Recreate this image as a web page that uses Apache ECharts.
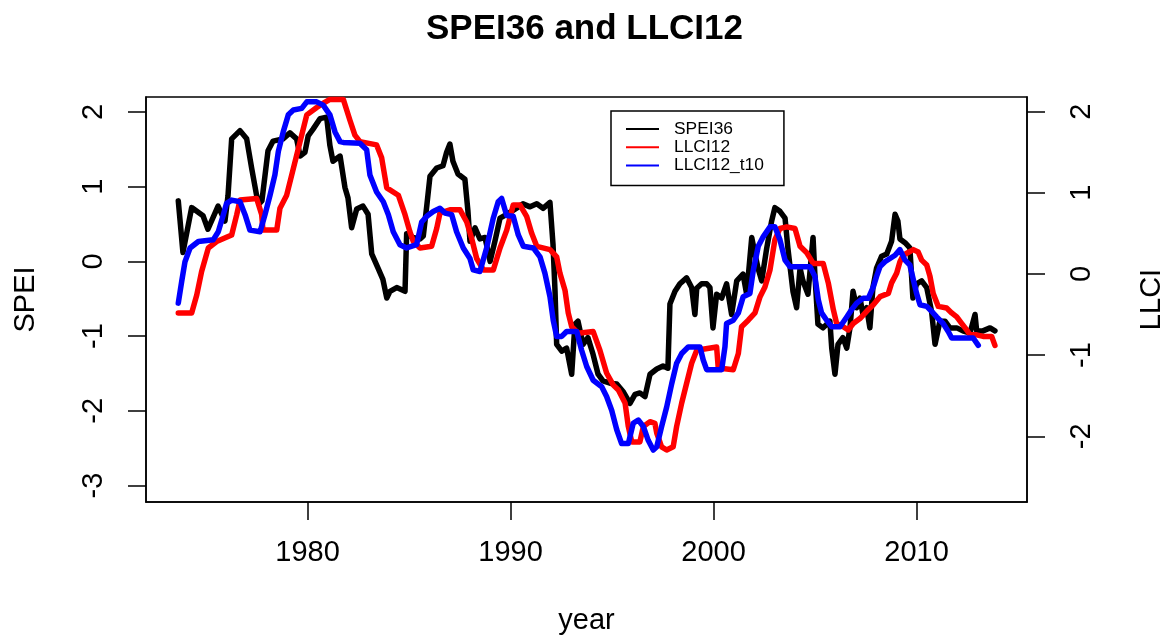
<!DOCTYPE html>
<html><head><meta charset="utf-8">
<script src="https://cdn.jsdelivr.net/npm/echarts@6/dist/echarts.min.js"></script>
<style>html,body{margin:0;padding:0;background:#fff}#c{width:1169px;height:642px}</style>
</head><body><div id="c"></div>
<script>
// SPEI36 (left axis)
const speiYears = [1973.63,1973.86,1974.29,1974.85,1975.09,1975.59,1975.93,1976.08,1976.26,1976.67,
1977.00,1977.25,1977.49,1977.61,1977.75,1978.05,1978.30,1978.79,1979.13,1979.46,
1979.63,1979.87,1980.03,1980.27,1980.61,1980.94,1981.10,1981.25,1981.60,1981.84,
1981.99,1982.17,1982.42,1982.73,1982.98,1983.16,1983.47,1983.71,1983.90,1984.06,
1984.39,1984.80,1984.88,1985.19,1985.54,1985.70,1985.87,1986.03,1986.36,1986.67,
1986.85,1987.01,1987.16,1987.41,1987.75,1987.90,1988.00,1988.25,1988.49,1988.74,
1988.99,1989.23,1989.48,1989.81,1990.22,1990.61,1990.96,1991.29,1991.60,1991.94,
1992.09,1992.19,1992.27,1992.52,1992.76,1993.01,1993.17,1993.32,1993.57,1993.81,
1994.06,1994.31,1994.55,1994.90,1995.23,1995.54,1995.88,1996.13,1996.37,1996.62,
1996.87,1997.20,1997.51,1997.75,1997.85,1998.10,1998.34,1998.67,1998.92,1999.08,
1999.17,1999.41,1999.66,1999.82,1999.97,2000.15,2000.40,2000.64,2000.89,2001.14,
2001.45,2001.63,2001.88,2002.04,2002.19,2002.37,2002.62,2002.86,2003.02,2003.27,
2003.52,2003.66,2003.91,2004.09,2004.26,2004.40,2004.65,2004.90,2004.99,2005.14,
2005.39,2005.73,2005.82,2005.98,2006.13,2006.37,2006.56,2006.72,2006.87,2007.05,
2007.21,2007.36,2007.54,2007.70,2007.85,2008.03,2008.28,2008.53,2008.77,2008.94,
2009.08,2009.18,2009.43,2009.67,2009.82,2010.00,2010.25,2010.50,2010.74,2010.91,
2011.15,2011.40,2011.64,2011.98,2012.28,2012.63,2012.88,2012.96,2013.27,2013.62,2013.86];
const speiValues = [0.81,0.12,0.72,0.61,0.43,0.74,0.54,0.88,1.64,1.75,
1.64,1.24,0.88,0.77,0.81,1.48,1.61,1.64,1.72,1.64,
1.41,1.46,1.68,1.77,1.91,1.93,1.55,1.34,1.41,0.99,
0.85,0.45,0.70,0.74,0.63,0.10,-0.09,-0.24,-0.49,-0.40,
-0.35,-0.40,0.37,0.32,0.30,0.34,0.74,1.14,1.25,1.28,
1.46,1.57,1.34,1.17,1.10,0.67,0.27,0.45,0.30,0.32,
0.00,0.27,0.58,0.63,0.70,0.77,0.73,0.77,0.71,0.79,
0.23,-0.40,-1.11,-1.20,-1.16,-1.51,-0.84,-0.80,-1.11,-1.02,
-1.24,-1.51,-1.60,-1.63,-1.64,-1.74,-1.90,-1.78,-1.76,-1.81,
-1.51,-1.44,-1.40,-1.43,-0.57,-0.40,-0.30,-0.22,-0.35,-0.71,
-0.36,-0.30,-0.30,-0.35,-0.89,-0.44,-0.49,-0.30,-0.71,-0.26,
-0.17,-0.44,0.32,0.10,-0.09,-0.26,0.18,0.54,0.72,0.67,
0.58,0.18,-0.40,-0.62,-0.09,-0.26,-0.44,0.32,-0.17,-0.84,
-0.89,-0.80,-1.16,-1.51,-1.11,-1.02,-1.16,-0.89,-0.40,-0.62,
-0.49,-0.71,-0.62,-0.89,-0.35,-0.09,0.07,0.10,0.27,0.63,
0.54,0.30,0.25,0.18,-0.49,-0.30,-0.26,-0.35,-0.67,-1.11,
-0.80,-0.80,-0.89,-0.89,-0.93,-0.96,-0.71,-0.93,-0.93,-0.89,-0.93];

// LLCI12 (right axis)
const llciYears = [1973.63,1974.29,1974.54,1974.78,1975.11,1975.52,1976.26,1976.51,1976.67,1977.49,
1977.74,1977.80,1978.48,1978.64,1978.97,1979.30,1979.63,1979.96,1980.45,1980.76,
1981.10,1981.76,1982.09,1982.33,1982.58,1983.40,1983.65,1983.90,1984.47,1984.80,
1985.04,1985.21,1985.54,1986.11,1986.36,1986.52,1987.01,1987.51,1987.84,1988.08,
1988.33,1988.66,1989.15,1989.48,1989.81,1990.13,1990.46,1990.79,1991.04,1991.29,
1991.94,1992.27,1992.43,1992.68,1992.84,1993.01,1993.33,1994.07,1994.40,1994.73,
1995.06,1995.31,1995.64,1995.80,1995.97,1996.37,1996.54,1996.87,1997.11,1997.20,
1997.44,1997.69,1998.01,1998.18,1998.43,1998.67,1998.92,1999.17,2000.15,2000.23,
2000.97,2001.22,2001.38,2001.71,2002.04,2002.29,2002.53,2002.78,2003.02,2003.27,
2003.60,2004.01,2004.26,2004.59,2004.91,2005.40,2005.65,2005.90,2006.06,2006.39,
2006.63,2006.88,2007.21,2007.54,2007.87,2008.20,2008.61,2008.77,2009.02,2009.18,
2009.34,2009.84,2010.08,2010.25,2010.50,2010.66,2010.82,2011.07,2011.48,2011.73,
2011.98,2012.22,2012.47,2012.63,2012.96,2013.28,2013.70,2013.86];
const llciValues = [-0.48,-0.48,-0.26,0.03,0.32,0.40,0.48,0.73,0.91,0.93,
0.73,0.54,0.54,0.81,0.97,1.30,1.63,1.96,2.05,2.10,
2.15,2.15,1.89,1.71,1.63,1.59,1.43,1.06,0.97,0.73,
0.52,0.40,0.32,0.34,0.56,0.75,0.79,0.79,0.64,0.44,
0.19,0.05,0.05,0.32,0.54,0.85,0.85,0.71,0.50,0.34,
0.30,0.21,0.01,-0.20,-0.48,-0.65,-0.73,-0.71,-0.94,-1.22,
-1.37,-1.43,-1.59,-1.88,-2.07,-2.07,-1.88,-1.82,-1.84,-1.96,
-2.13,-2.17,-2.13,-1.88,-1.59,-1.35,-1.10,-0.94,-0.90,-1.16,
-1.18,-0.98,-0.65,-0.57,-0.48,-0.28,-0.16,0.05,0.42,0.56,
0.58,0.56,0.34,0.26,0.13,0.13,-0.11,-0.44,-0.61,-0.65,
-0.69,-0.61,-0.55,-0.46,-0.38,-0.28,-0.24,-0.11,0.01,0.15,
0.23,0.30,0.27,0.17,0.11,-0.03,-0.24,-0.40,-0.42,-0.48,
-0.53,-0.61,-0.69,-0.75,-0.75,-0.77,-0.77,-0.88];

// LLCI12_t10 (right axis)
const llciT10Years = [1973.63,1973.80,1973.96,1974.21,1974.62,1975.35,1975.60,1975.85,1976.01,1976.26,
1976.67,1976.92,1977.16,1977.66,1977.90,1978.15,1978.39,1978.56,1978.80,1979.05,
1979.30,1979.71,1979.96,1980.45,1980.77,1981.10,1981.35,1981.60,1981.76,1982.58,
1982.91,1983.07,1983.40,1983.73,1983.98,1984.22,1984.55,1984.88,1985.37,1985.62,
1985.87,1986.19,1986.52,1986.77,1987.10,1987.34,1987.67,1988.00,1988.16,1988.49,
1988.82,1989.15,1989.39,1989.56,1989.81,1990.13,1990.38,1990.63,1991.12,1991.45,
1991.69,1991.94,1992.10,1992.27,1992.52,1992.76,1993.26,1993.50,1993.75,1994.07,
1994.49,1994.73,1994.98,1995.23,1995.47,1995.80,1996.04,1996.29,1996.54,1996.78,
1997.03,1997.20,1997.44,1997.69,1997.94,1998.18,1998.43,1998.75,1999.33,1999.49,
1999.66,2000.40,2000.56,2000.64,2000.97,2001.22,2001.46,2001.79,2001.96,2002.20,
2002.45,2002.78,2003.02,2003.27,2003.52,2003.76,2004.75,2004.99,2005.16,2005.32,
2005.57,2005.82,2006.23,2006.56,2006.80,2007.05,2007.37,2007.62,2007.87,2008.03,
2008.20,2008.44,2008.69,2008.94,2009.18,2009.43,2009.67,2009.84,2010.00,2010.17,
2010.50,2010.74,2010.99,2011.31,2011.56,2011.73,2012.79,2013.04];
const llciT10Values = [-0.36,-0.09,0.15,0.32,0.40,0.42,0.52,0.73,0.87,0.91,
0.89,0.73,0.54,0.52,0.73,0.97,1.22,1.51,1.75,1.96,
2.02,2.04,2.12,2.12,2.08,1.96,1.75,1.63,1.62,1.61,
1.53,1.22,1.01,0.89,0.73,0.52,0.36,0.32,0.36,0.64,
0.71,0.77,0.81,0.75,0.73,0.52,0.32,0.19,0.05,0.03,
0.32,0.69,0.89,0.93,0.72,0.71,0.48,0.34,0.32,0.21,
0.01,-0.28,-0.57,-0.77,-0.77,-0.71,-0.71,-0.94,-1.14,-1.31,
-1.39,-1.51,-1.68,-1.92,-2.09,-2.09,-1.84,-1.80,-1.88,-2.05,
-2.17,-2.13,-1.88,-1.64,-1.35,-1.10,-0.98,-0.90,-0.90,-1.06,
-1.18,-1.18,-0.90,-0.61,-0.57,-0.48,-0.28,-0.24,0.05,0.34,
0.46,0.58,0.58,0.42,0.17,0.09,0.09,-0.03,-0.32,-0.48,
-0.57,-0.65,-0.65,-0.53,-0.44,-0.36,-0.30,-0.30,-0.16,-0.03,
0.09,0.15,0.19,0.23,0.30,0.17,0.11,-0.07,-0.24,-0.38,
-0.40,-0.46,-0.53,-0.61,-0.71,-0.79,-0.79,-0.88];

const seriesNames = ['SPEI36','LLCI12','LLCI12_t10'];
const xTicks = [1980,1990,2000,2010];
const speiTicks = [-3,-2,-1,0,1,2];
const llciTicks = [-2,-1,0,1,2];

const font = '"Liberation Sans", Arial, sans-serif';
function pairs(xs, ys){ const n = Math.min(xs.length, ys.length); const out=[]; for(let i=0;i<n;i++) out.push([xs[i], ys[i]]); return out; }
const plain = v => String(v);

const chart = echarts.init(document.getElementById('c'), null, {renderer:'canvas'});
const tick = {show:true, length:18, inside:false, lineStyle:{color:'#000', width:1.5}};
const option = {
  animation:false,
  backgroundColor:'#fff',
  title:{text:'SPEI36 and LLCI12', left:'center', top:7,
    textStyle:{fontFamily:font, fontWeight:'bold', fontSize:35, color:'#000'}},
  legend:{orient:'vertical', left:611, top:111, padding:[9,20,11,15], itemGap:0,
    itemWidth:33, itemHeight:2, icon:'rect', borderColor:'#000', borderWidth:1.5,
    backgroundColor:'#fff', selectedMode:false,
    textStyle:{fontFamily:font, fontSize:17.4, color:'#000', lineHeight:18.2, padding:[0,0,0,10]},
    data:seriesNames},
  grid:{left:146, right:142, top:97, bottom:140, show:true, borderColor:'#000', borderWidth:1.5,
    containLabel:false, outerBoundsMode:'none'},
  xAxis:{type:'value', min:1972.04, max:2015.44, name:'year', nameLocation:'middle', nameGap:104,
    nameTextStyle:{fontFamily:font, fontSize:29, color:'#000'},
    axisLine:{show:true, onZero:false, lineStyle:{color:'#000', width:1.5}},
    splitLine:{show:false},
    axisTick:Object.assign({customValues:xTicks}, tick),
    axisLabel:{customValues:xTicks, formatter:plain, fontFamily:font, fontSize:29, color:'#000', margin:36}},
  yAxis:[
    {type:'value', position:'left', min:-3.22, max:2.2, name:'SPEI', nameLocation:'middle', nameGap:106, nameRotate:90,
      nameTextStyle:{fontFamily:font, fontSize:29, color:'#000'},
      axisLine:{show:true, lineStyle:{color:'#000', width:1.5}}, splitLine:{show:false},
      axisTick:Object.assign({customValues:speiTicks}, tick),
      axisLabel:{customValues:speiTicks, formatter:plain, rotate:90, fontFamily:font, fontSize:29, color:'#000', margin:38}},
    {type:'value', position:'right', min:-2.81, max:2.18, name:'LLCI', nameLocation:'middle', nameGap:110, nameRotate:90,
      nameTextStyle:{fontFamily:font, fontSize:29, color:'#000'},
      axisLine:{show:true, lineStyle:{color:'#000', width:1.5}}, splitLine:{show:false},
      axisTick:Object.assign({customValues:llciTicks}, tick),
      axisLabel:{customValues:llciTicks, formatter:plain, rotate:90, fontFamily:font, fontSize:29, color:'#000', margin:40}}
  ],
  series:[
    {name:seriesNames[0], type:'line', yAxisIndex:0, data:pairs(speiYears, speiValues), showSymbol:false, symbol:'none',
      color:'#000000', lineStyle:{color:'#000000', width:5.5, cap:'round', join:'round'}, clip:true, silent:true, z:2},
    {name:seriesNames[1], type:'line', yAxisIndex:1, data:pairs(llciYears, llciValues), showSymbol:false, symbol:'none',
      color:'#ff0000', lineStyle:{color:'#ff0000', width:5.5, cap:'round', join:'round'}, clip:true, silent:true, z:3},
    {name:seriesNames[2], type:'line', yAxisIndex:1, data:pairs(llciT10Years, llciT10Values), showSymbol:false, symbol:'none',
      color:'#0000ff', lineStyle:{color:'#0000ff', width:5.5, cap:'round', join:'round'}, clip:true, silent:true, z:4}
  ]
};
chart.setOption(option);
</script></body></html>
